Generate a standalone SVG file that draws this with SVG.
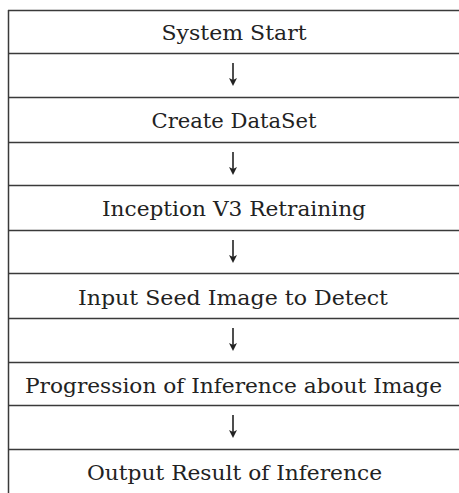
<svg xmlns="http://www.w3.org/2000/svg" width="459" height="493" viewBox="0 0 459 493">
<style>
.rule{stroke:#3a3a3a;stroke-width:1.5;fill:none}
.t{font-family:"DejaVu Serif","Liberation Serif",serif;font-size:20px;fill:#222;text-anchor:middle}
.arr{stroke:#222;stroke-width:1.6;fill:none}
.head{fill:#222;stroke:none}
</style>
<rect width="459" height="493" fill="#fff"/>
<g id="table">
<path class="rule" d="M8.5 10V493"/>
<path class="rule" d="M8 10.5H459M8 53.5H459M8 97.5H459M8 142.5H459M8 185.5H459M8 230.5H459M8 273.5H459M8 318.5H459M8 362.5H459M8 405.5H459M8 449.5H459"/>
</g>
<g id="n1"><text class="t" x="234" y="40" textLength="145" lengthAdjust="spacingAndGlyphs">System Start</text></g>
<g id="n2"><text class="t" x="234" y="128" textLength="165" lengthAdjust="spacingAndGlyphs">Create DataSet</text></g>
<g id="n3"><text class="t" x="234" y="216" textLength="264" lengthAdjust="spacingAndGlyphs">Inception V3 Retraining</text></g>
<g id="n4"><text class="t" x="233" y="305" textLength="310" lengthAdjust="spacingAndGlyphs">Input Seed Image to Detect</text></g>
<g id="n5"><text class="t" x="233.5" y="393" textLength="417" lengthAdjust="spacingAndGlyphs">Progression of Inference about Image</text></g>
<g id="n6"><text class="t" x="234.5" y="480" textLength="295" lengthAdjust="spacingAndGlyphs">Output Result of Inference</text></g>
<g id="connectors">
<g transform="translate(233,53)"><path class="arr" d="M0 10V29"/><path class="head" d="M-4 25L0 33L4 25L0 27Z"/></g>
<g transform="translate(233,142)"><path class="arr" d="M0 10V29"/><path class="head" d="M-4 25L0 33L4 25L0 27Z"/></g>
<g transform="translate(233,230)"><path class="arr" d="M0 10V29"/><path class="head" d="M-4 25L0 33L4 25L0 27Z"/></g>
<g transform="translate(233,318)"><path class="arr" d="M0 10V29"/><path class="head" d="M-4 25L0 33L4 25L0 27Z"/></g>
<g transform="translate(233,405)"><path class="arr" d="M0 10V29"/><path class="head" d="M-4 25L0 33L4 25L0 27Z"/></g>
</g>
</svg>
